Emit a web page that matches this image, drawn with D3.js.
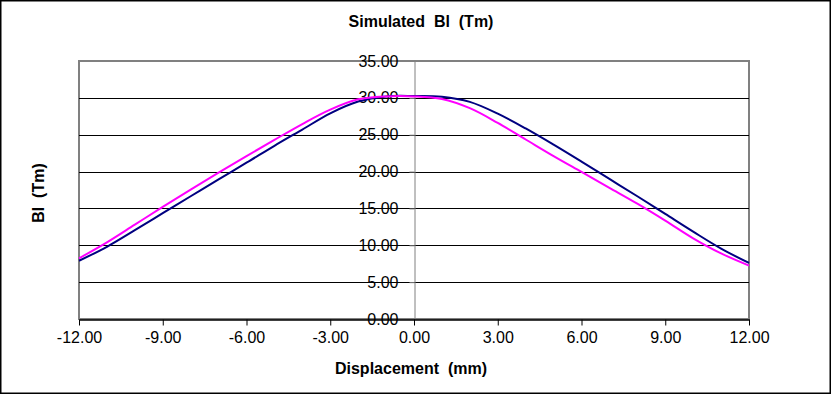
<!DOCTYPE html>
<html>
<head>
<meta charset="utf-8">
<script src="https://cdn.jsdelivr.net/npm/d3@7"></script>
<style>
  body { margin: 0; background: #fff; }
  text { font-family: "Liberation Sans", Arial, sans-serif; white-space: pre; }
</style>
</head>
<body>
<svg id="chart" width="831" height="394"></svg>
<script>
// displacement (mm) and simulated Bl (Tm)
const displacement = [-12, -11, -10, -9, -8, -7, -6, -5, -4, -3, -2, -1, 0, 1, 2, 3, 4, 5, 6, 7, 8, 9, 10, 11, 12];
const blueBl = [7.9, 9.8, 12.05, 14.35, 16.65, 18.95, 21.2, 23.5, 25.7, 27.9, 29.5, 30.2, 30.25, 30.15, 29.45, 27.85, 25.85, 23.65, 21.35, 19.0, 16.65, 14.25, 11.85, 9.55, 7.6];
const pinkBl = [8.23, 10.4, 12.8, 15.2, 17.55, 19.85, 22.1, 24.3, 26.45, 28.4, 29.8, 30.2, 30.2, 29.85, 28.6, 26.6, 24.35, 22.1, 19.95, 17.8, 15.65, 13.35, 10.95, 8.9, 7.25];
const xTicks = [-12, -9, -6, -3, 0, 3, 6, 9, 12];
const yTicks = [0, 5, 10, 15, 20, 25, 30, 35];

const svg = d3.select('#chart');
const plotLeft = 79, plotRight = 749, plotTop = 61, plotBottom = 319;

const x = d3.scaleLinear().domain([-12, 12]).range([plotLeft, plotRight]);
const y = d3.scaleLinear().domain([0, 35]).range([plotBottom, plotTop]);
const fmt = d => d3.format('.2f')(d).replace('\u2212', '-');

// outer frame
svg.append('rect')
  .attr('x', 0.75).attr('y', 0.75).attr('width', 829.5).attr('height', 392.5)
  .attr('fill', '#fff').attr('stroke', '#000').attr('stroke-width', 1.5);

// plot frame (gray)
svg.append('rect')
  .attr('x', plotLeft).attr('y', plotTop).attr('width', plotRight - plotLeft).attr('height', plotBottom - plotTop)
  .attr('fill', 'none').attr('stroke', '#808080').attr('stroke-width', 2);

// gridlines
svg.append('g')
  .selectAll('line')
  .data(yTicks.filter(d => d > 0 && d < 35))
  .enter()
  .append('line')
  .attr('x1', plotLeft).attr('x2', plotRight)
  .attr('y1', d => Math.round(y(d)) + 0.5).attr('y2', d => Math.round(y(d)) + 0.5)
  .attr('stroke', '#000').attr('stroke-width', 1);

// y axis at x = 0
const yAxis = svg.append('g')
  .attr('transform', `translate(${Math.round(x(0)) + 0.5},0)`)
  .call(d3.axisLeft(y).tickValues(yTicks).tickFormat(fmt).tickSize(5).tickPadding(11));
yAxis.select('.domain').attr('stroke', '#808080');
yAxis.selectAll('.tick line').attr('stroke', '#808080');
yAxis.selectAll('text').attr('font-size', 16).attr('fill', '#000')
  .attr('font-family', '"Liberation Sans", Arial, sans-serif');

// x axis
const xAxis = svg.append('g')
  .attr('transform', `translate(0,${plotBottom + 0.5})`)
  .call(d3.axisBottom(x).tickValues(xTicks).tickFormat(fmt).tickSizeInner(6).tickSizeOuter(0).tickPadding(6));
xAxis.select('.domain').attr('stroke', '#000').attr('stroke-width', 1.5);
xAxis.selectAll('.tick line').attr('stroke', '#000');
xAxis.selectAll('text').attr('font-size', 16).attr('fill', '#000')
  .attr('font-family', '"Liberation Sans", Arial, sans-serif');

// curves
const line = d3.line()
  .x(d => x(d[0]))
  .y(d => y(d[1]))
  .curve(d3.curveCatmullRom.alpha(0.5));

svg.append('path')
  .datum(displacement.map((d, i) => [d, blueBl[i]]))
  .attr('d', line)
  .attr('fill', 'none').attr('stroke', '#000080').attr('stroke-width', 2);

svg.append('path')
  .datum(displacement.map((d, i) => [d, pinkBl[i]]))
  .attr('d', line)
  .attr('fill', 'none').attr('stroke', '#ff00ff').attr('stroke-width', 2);

// titles
svg.append('text')
  .attr('x', 421).attr('y', 27)
  .attr('text-anchor', 'middle').attr('font-size', 16).attr('font-weight', 'bold')
  .text('Simulated  Bl  (Tm)');

svg.append('text')
  .attr('x', 411).attr('y', 374)
  .attr('text-anchor', 'middle').attr('font-size', 16).attr('font-weight', 'bold')
  .text('Displacement  (mm)');

svg.append('text')
  .attr('transform', 'translate(44,193) rotate(-90)')
  .attr('text-anchor', 'middle').attr('font-size', 16).attr('font-weight', 'bold')
  .text('Bl  (Tm)');
</script>
</body>
</html>
